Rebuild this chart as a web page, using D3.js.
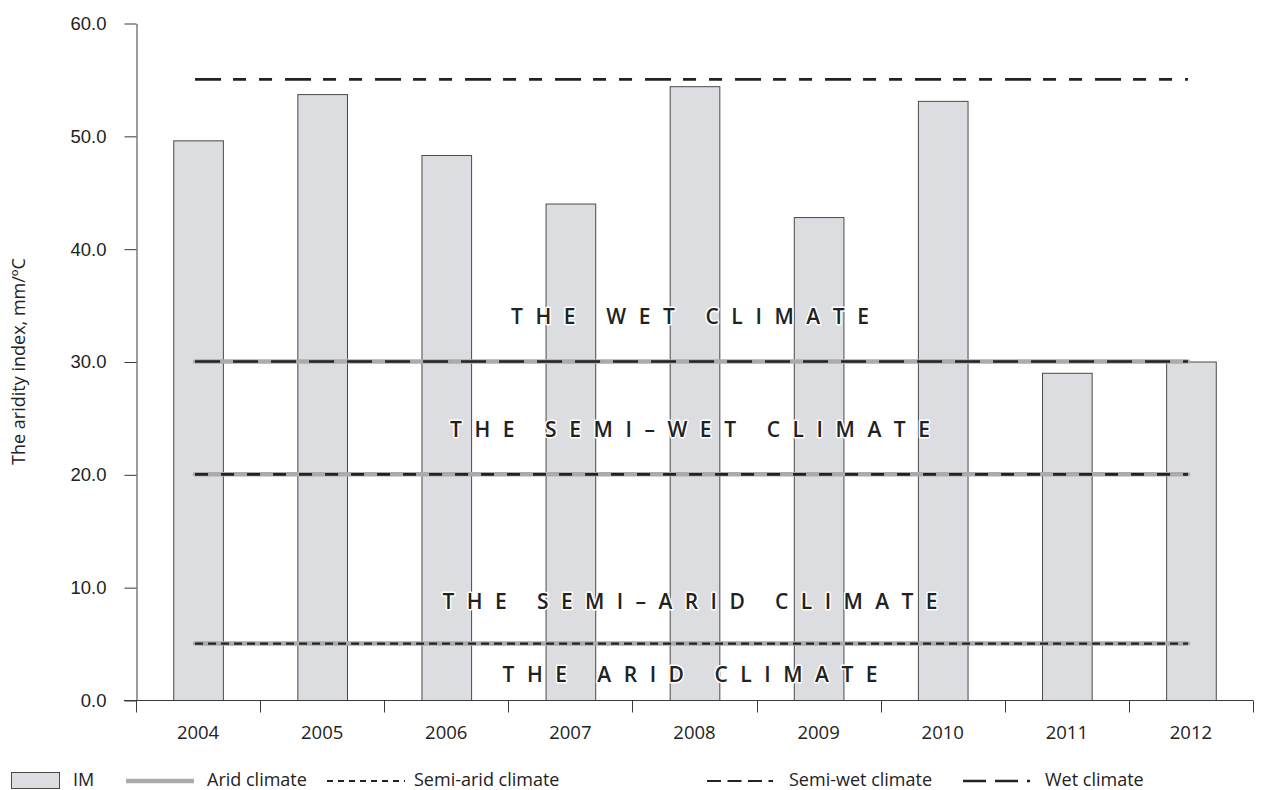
<!DOCTYPE html>
<html>
<head>
<meta charset="utf-8">
<script src="https://cdn.jsdelivr.net/npm/d3@7/dist/d3.min.js"></script>
<style>
  html, body { margin: 0; padding: 0; background: #fff; }
  svg { display: block; font-family: "Open Sans", "Noto Sans", sans-serif; }
</style>
</head>
<body>
<svg id="chart" width="1266" height="790"></svg>
<script>
// Aridity index by year
const years = ["2004", "2005", "2006", "2007", "2008", "2009", "2010", "2011", "2012"];
const imValues = [49.6, 53.7, 48.3, 44.0, 54.4, 42.8, 53.1, 29.0, 30.0];

// Climate boundary levels
const semiAridLevel = 5;
const semiWetLevel = 20;
const wetLevel = 30;
const upperLevel = 55;

const yTicks = [0, 10, 20, 30, 40, 50, 60];
const zoneLabels = ["THE WET CLIMATE", "THE SEMI\u2013WET CLIMATE", "THE SEMI\u2013ARID CLIMATE", "THE ARID CLIMATE"];
const zoneLabelY = [33.3, 23.3, 8.1, 1.6];   // text baselines, in index units
const zoneLabelWidths = [358, 480, 495, 375];
const legendLabels = ["IM", "Arid climate", "Semi-arid climate", "Semi-wet climate", "Wet climate"];

const svg = d3.select("#chart");
const plotLeft = 136, plotRight = 1253, plotTop = 23, plotBottom = 700;

const x = d3.scaleBand().domain(years).range([plotLeft, plotRight]).paddingInner(0.6).paddingOuter(0.3);
const xb = d3.scaleBand().domain(years).range([plotLeft, plotRight]);
const y = d3.scaleLinear().domain([0, 60]).range([plotBottom, plotTop]);

const axisColor = "#3a3a3a";
const textColor = "#222";
const grey = "#ababab";

// Bars
svg.append("g").selectAll("rect").data(imValues).join("rect")
  .attr("x", (d, i) => x(years[i]) + 0.5)
  .attr("y", d => y(d) + 0.5)
  .attr("width", x.bandwidth())
  .attr("height", d => y(0) - y(d))
  .attr("fill", "#dcdde0")
  .attr("stroke", "#4a4a4a")
  .attr("stroke-width", 1);

// Y axis
const yAxis = svg.append("g").attr("transform", `translate(${plotLeft + 0.5},0.5)`)
  .call(d3.axisLeft(y).tickValues(yTicks).tickFormat(d3.format(".1f")).tickSize(12).tickPadding(18).tickSizeOuter(0));
yAxis.select(".domain").attr("stroke", axisColor);
yAxis.selectAll(".tick line").attr("stroke", axisColor);
yAxis.selectAll(".tick text").attr("fill", textColor).style("font-size", "18.5px").style("font-family", "inherit");

// X axis: ticks at band boundaries, labels centered in each band
const xAxisG = svg.append("g").attr("transform", `translate(0,${plotBottom + 0.5})`);
xAxisG.append("line").attr("x1", plotLeft - 12).attr("x2", plotRight).attr("stroke", axisColor);
const bounds = years.map(d => xb(d)).concat([xb.range()[1]]);
xAxisG.selectAll("line.bt").data(bounds).join("line").attr("class", "bt")
  .attr("x1", d => Math.round(d) + 0.5).attr("x2", d => Math.round(d) + 0.5)
  .attr("y1", 0).attr("y2", 12).attr("stroke", axisColor);
xAxisG.selectAll("text").data(years).join("text")
  .attr("x", d => xb(d) + xb.bandwidth() / 2).attr("y", 38)
  .attr("text-anchor", "middle").attr("fill", textColor).style("font-size", "18.5px").text(d => d);

// Y axis title
svg.append("text")
  .attr("transform", `translate(25,${(plotTop + plotBottom) / 2}) rotate(-90)`)
  .attr("text-anchor", "middle").attr("fill", textColor).style("font-size", "18px")
  .text("The aridity index, mm/ºC");

// Threshold lines
const x0 = x(years[0]) + x.bandwidth() / 2 - 3;
const x1 = x(years[years.length - 1]) + x.bandwidth() / 2 - 3;
const lineG = svg.append("g");
function hline(v, color, width, dash, cap) {
  lineG.append("line")
    .attr("x1", x0).attr("x2", x1).attr("y1", y(v)).attr("y2", y(v))
    .attr("stroke", color).attr("stroke-width", width)
    .attr("stroke-dasharray", dash || null)
    .attr("stroke-linecap", cap || "butt");
}
[semiAridLevel, semiWetLevel, wetLevel].forEach(v => hline(v, grey, 4.5, null, "round"));
hline(semiAridLevel, "#222", 2.4, "8,5");
hline(semiWetLevel, "#222", 2.6, "13,13");
hline(wetLevel, "#222", 2.6, "25,13");
hline(upperLevel, "#222", 2.6, "26,12,13,13,13,13");

// Zone labels with a white halo
const labelG = svg.append("g");
zoneLabels.forEach((t, i) => {
  const cx = 690;
  const w = zoneLabelWidths[i];
  [true, false].forEach(halo => {
    labelG.append("text")
      .attr("x", cx - w / 2).attr("y", y(zoneLabelY[i]))
      .attr("textLength", w).attr("lengthAdjust", "spacing")
      .attr("fill", halo ? "none" : "#222")
      .attr("stroke", halo ? "#fff" : "none").attr("stroke-width", halo ? 3 : 0)
      .attr("stroke-linejoin", "round")
      .style("font-size", "21px").style("font-weight", 600)
      .text(t);
  });
});

// Legend
const lg = svg.append("g");
const ly = 781;
lg.append("rect").attr("x", 11.5).attr("y", 772.5).attr("width", 48).attr("height", 16)
  .attr("fill", "#dcdde0").attr("stroke", "#4a4a4a");
lg.append("line").attr("x1", 126).attr("x2", 194).attr("y1", ly).attr("y2", ly)
  .attr("stroke", grey).attr("stroke-width", 4.5);
lg.append("line").attr("x1", 327).attr("x2", 405).attr("y1", ly).attr("y2", ly)
  .attr("stroke", "#222").attr("stroke-width", 2).attr("stroke-dasharray", "6,5");
lg.append("line").attr("x1", 707).attr("x2", 773).attr("y1", ly).attr("y2", ly)
  .attr("stroke", "#222").attr("stroke-width", 2).attr("stroke-dasharray", "14,6.5");
lg.append("line").attr("x1", 963).attr("x2", 1030).attr("y1", ly).attr("y2", ly)
  .attr("stroke", "#222").attr("stroke-width", 2.4).attr("stroke-dasharray", "23,9");
const legendX = [73, 207, 414, 789, 1045];
lg.selectAll("text").data(legendLabels).join("text")
  .attr("x", (d, i) => legendX[i]).attr("y", 786)
  .attr("fill", textColor).style("font-size", "18px").text(d => d);
</script>
</body>
</html>
